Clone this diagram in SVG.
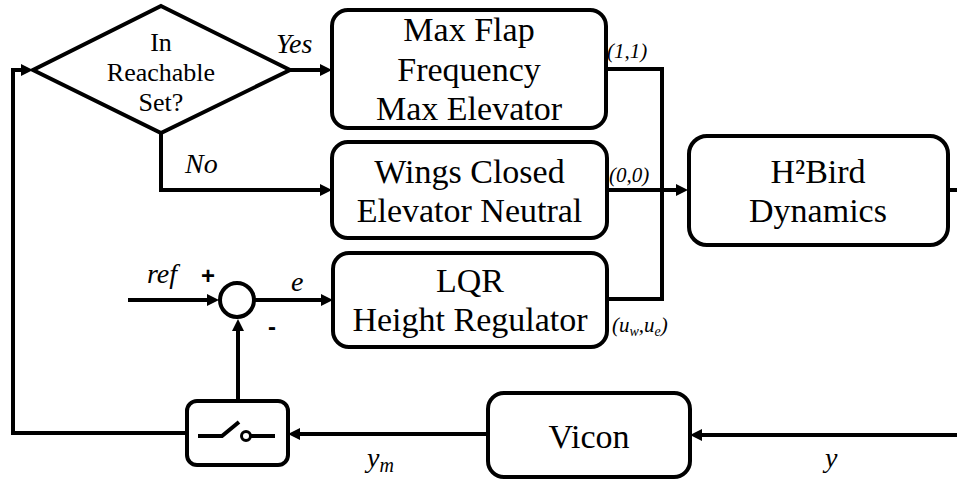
<svg xmlns="http://www.w3.org/2000/svg" width="957" height="480" viewBox="0 0 957 480">
<defs>
<marker id="arr" viewBox="0 0 12 12" refX="2" refY="6" markerWidth="12" markerHeight="12" markerUnits="userSpaceOnUse" orient="auto">
<path d="M0,0 L12,6 L0,12 z" fill="#000"/>
</marker>
<style>
.box{fill:#fff;stroke:#000;stroke-width:4}
.ln{fill:none;stroke:#000;stroke-width:4}
.t{font-size:34px;fill:#000;text-anchor:middle}
.d{font-size:26px;fill:#000;text-anchor:middle}
.m{font-style:italic;font-size:28px;fill:#000}
.s{font-style:italic;font-size:21px;fill:#000}
.sg{font-weight:bold;font-size:24px;fill:#000}
</style>
</defs>
<rect width="957" height="480" fill="#fff"/>

<g id="connectors">
<path class="ln" d="M187,433 L13,433 L13,70 L23,70" marker-end="url(#arr)"/>
<path class="ln" d="M290,70 L322,70" marker-end="url(#arr)"/>
<path class="ln" d="M161,133 L161,190 L322,190" marker-end="url(#arr)"/>
<path class="ln" d="M606,69 L662,69 L662,299 L607,299"/>
<path class="ln" d="M607,190 L678,190" marker-end="url(#arr)"/>
<path class="ln" d="M948,190 L960,190"/>
<path class="ln" d="M960,435 L700,435" marker-end="url(#arr)"/>
<path class="ln" d="M488,434 L298,434" marker-end="url(#arr)"/>
<path class="ln" d="M238,401 L238,329" marker-end="url(#arr)"/>
<path class="ln" d="M128,300 L209,300" marker-end="url(#arr)"/>
<path class="ln" d="M255,300 L323,300" marker-end="url(#arr)"/>
</g>

<g font-family="'Liberation Serif', 'DejaVu Serif', 'Times New Roman', serif">
<g id="decision">
<polygon class="box" points="161,6 290,70 161,133 33,70"/>
<text class="d" x="161" y="51">In</text>
<text class="d" x="161" y="81">Reachable</text>
<text class="d" x="161" y="111">Set?</text>
</g>

<g id="maxflap">
<rect class="box" x="332" y="10" width="274" height="118" rx="16"/>
<text class="t" x="469" y="41">Max Flap</text>
<text class="t" x="469" y="81">Frequency</text>
<text class="t" x="469" y="120">Max Elevator</text>
</g>

<g id="wingsclosed">
<rect class="box" x="332" y="142" width="275" height="96" rx="16"/>
<text class="t" x="469.5" y="183">Wings Closed</text>
<text class="t" x="469.5" y="222">Elevator Neutral</text>
</g>

<g id="lqr">
<rect class="box" x="333" y="253" width="274" height="94" rx="16"/>
<text class="t" x="470" y="292">LQR</text>
<text class="t" x="470" y="331">Height Regulator</text>
</g>

<g id="dynamics">
<rect class="box" x="689" y="136" width="259" height="109" rx="18"/>
<text class="t" x="818" y="183">H²Bird</text>
<text class="t" x="818" y="222">Dynamics</text>
</g>

<g id="vicon">
<rect class="box" x="488" y="393" width="202" height="84" rx="16"/>
<text class="t" x="589" y="448">Vicon</text>
</g>

<g id="labels">
<text class="m" x="276" y="53">Yes</text>
<text class="m" x="185" y="173">No</text>
<text class="s" x="607" y="58">(1,1)</text>
<text class="s" x="609" y="182">(0,0)</text>
<text class="s" x="612" y="332">(u<tspan dy="4" font-size="14">w</tspan><tspan dy="-4">,u</tspan><tspan dy="4" font-size="14">e</tspan><tspan dy="-4">)</tspan></text>
<text class="m" x="147" y="283">ref</text>
<text class="m" x="291" y="291">e</text>
<text class="m" x="367" y="467">y<tspan dy="5" font-size="20">m</tspan></text>
<text class="m" x="825" y="467">y</text>
<text class="sg" x="201" y="284" font-family="'Liberation Sans', Arial, sans-serif">+</text>
<text class="sg" x="268" y="335" font-family="'Liberation Sans', Arial, sans-serif">-</text>
</g>
</g>

<g id="switch">
<rect class="box" x="187" y="401" width="101" height="64" rx="10"/>
<path fill="none" stroke="#000" stroke-width="4" d="M198,436 L222,436 L239,422"/>
<line x1="251" y1="436" x2="275" y2="436" stroke="#000" stroke-width="4"/>
<circle cx="246" cy="436" r="4.5" fill="#fff" stroke="#000" stroke-width="3"/>
</g>

<g id="sum">
<circle class="box" cx="237" cy="300" r="17"/>
</g>
</svg>
